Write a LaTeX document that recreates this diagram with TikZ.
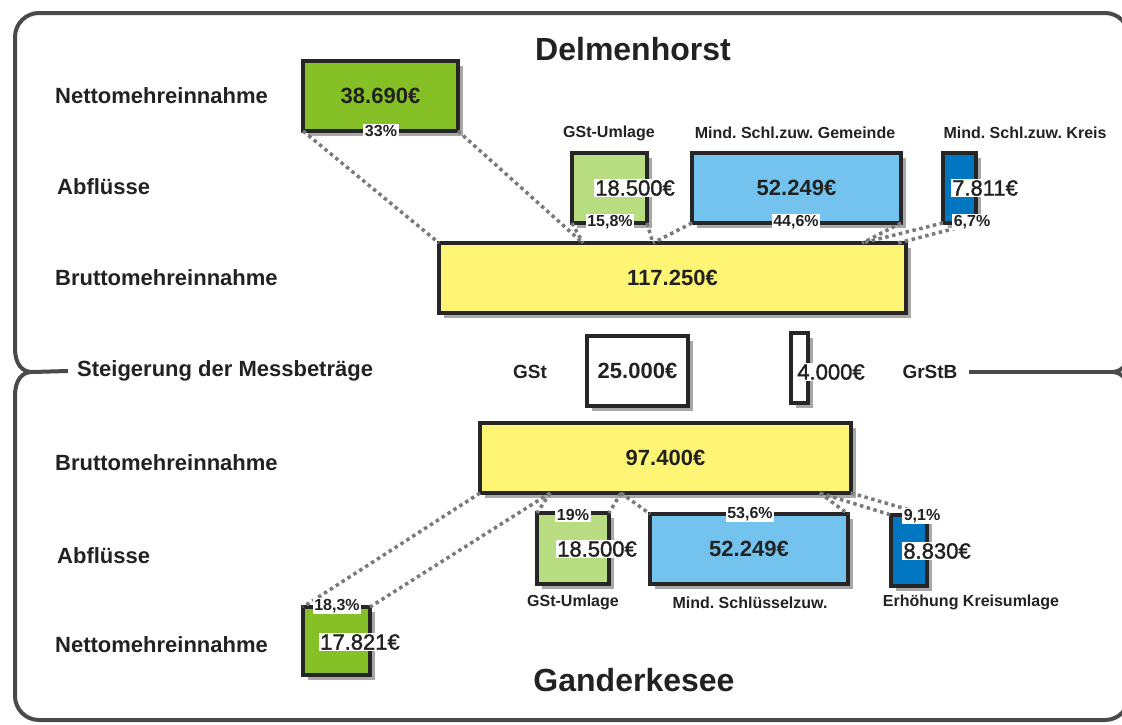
\documentclass[tikz,border=0pt]{standalone}
\usepackage{fontspec}
\setmainfont{Liberation Sans}
\usepackage{tikz}
\usetikzlibrary{calc,shadows}
\frenchspacing
\definecolor{netgreen}{HTML}{85C026}
\definecolor{gstgreen}{HTML}{B8DC80}
\definecolor{lightblue}{HTML}{74C3EE}
\definecolor{darkblue}{HTML}{0077C0}
\definecolor{grossyellow}{HTML}{FFF575}
\definecolor{shadowgray}{HTML}{A8A8A8}
\definecolor{framegray}{HTML}{4A4A4A}
\definecolor{dotgray}{HTML}{7A7A7A}
\definecolor{textdark}{HTML}{222222}
\tikzset{
  outline/.style={draw=framegray, line width=4pt},
  box/.style={draw=black!85, line width=3.5pt, inner sep=0pt, outer sep=0pt,
    drop shadow={shadow xshift=5pt, shadow yshift=-5pt, fill=shadowgray, opacity=1},
    font=\bfseries\fontsize{22}{26}\selectfont},
  flow/.style={draw=dotgray, line width=3.5pt, dash pattern=on 3.5pt off 3.5pt},
  rowlabel/.style={anchor=west, inner sep=0pt, font=\bfseries\fontsize{22}{26}\selectfont},
  caption/.style={inner sep=0pt, font=\bfseries\fontsize{16}{19}\selectfont},
  pct/.style={fill=white, inner sep=1.5pt, font=\bfseries\fontsize{16}{19}\selectfont},
  amount/.style={fill=white, inner sep=1pt, font=\fontsize{22}{26}\selectfont\addfontfeature{FakeBold=1.5}},
  title/.style={font=\bfseries\fontsize{32}{38}\selectfont}
}
\begin{document}
\begin{tikzpicture}[x=1pt, y=-1pt, every node/.style={text=textdark}]
\useasboundingbox (0,0) rectangle (1122,724);

% frame with the two braces
\draw[outline, rounded corners=24pt] (15,348) -- (15,13) -- (1129,13) -- (1129,348);
\draw[outline, rounded corners=24pt] (15,396) -- (15,720) -- (1129,720) -- (1129,396);
\coordinate (braceL) at (32,372);
\coordinate (braceR) at (1112,372);
\draw[outline] (15,348) .. controls (15,364) and (22,372) .. (braceL)
               .. controls (22,372) and (15,380) .. (15,396);
\draw[outline] (1129,348) .. controls (1129,364) and (1122,372) .. (braceR)
               .. controls (1122,372) and (1129,380) .. (1129,396);

\node[title] (delm) at (633,49) {Delmenhorst};
\node[title] (gand) at (634,680) {Ganderkesee};

\node[rowlabel] (nettoDl) at (55,96) {Nettomehreinnahme};
\node[rowlabel] (abflDl) at (57,187) {Abflüsse};
\node[rowlabel] (bruttoDl) at (55,278) {Bruttomehreinnahme};
\node[rowlabel] (steig) at (77,371) {Steigerung der Messbeträge};
\node[rowlabel] (bruttoGl) at (55,463) {Bruttomehreinnahme};
\node[rowlabel] (abflGl) at (57,556) {Abflüsse};
\node[rowlabel] (nettoGl) at (55,645) {Nettomehreinnahme};

\draw[outline] (braceL) -- ([xshift=-9pt]steig.west);

% Delmenhorst
\node[box, fill=netgreen, minimum width=155pt, minimum height=70pt] (nettoD) at (380.5,96) {38.690€};
\node[box, fill=gstgreen, minimum width=75pt, minimum height=70pt] (gstD) at (609.5,188) {};
\node[box, fill=lightblue, minimum width=209pt, minimum height=70pt] (gemD) at (796.5,188) {52.249€};
\node[box, fill=darkblue, minimum width=33pt, minimum height=70pt] (kreisD) at (959.5,188) {};
\node[box, fill=grossyellow, minimum width=467pt, minimum height=70pt] (bruttoD) at (672.5,278) {117.250€};

% Messbetraege
\node[box, fill=white, minimum width=101pt, minimum height=70pt] (gstW) at (637.5,371) {25.000€};
\node[box, fill=white, minimum width=17pt, minimum height=70pt] (grstW) at (799.5,368) {};
\node[caption, font=\bfseries\fontsize{19}{22}\selectfont] (gstT) at (530,372) {GSt};
\node[caption, font=\bfseries\fontsize{19}{22}\selectfont] (grstb) at (930,372) {GrStB};
\draw[outline] ([xshift=11pt]grstb.east) -- (braceR);

% Ganderkesee
\node[box, fill=grossyellow, minimum width=371pt, minimum height=70pt] (bruttoG) at (665.5,458) {97.400€};
\node[box, fill=gstgreen, minimum width=72pt, minimum height=71pt] (gstG) at (573,548.5) {};
\node[box, fill=lightblue, minimum width=198pt, minimum height=70pt] (schlG) at (749,549) {52.249€};
\node[box, fill=darkblue, minimum width=36pt, minimum height=71pt] (kreisG) at (909,550.5) {};
\node[box, fill=netgreen, minimum width=67pt, minimum height=68pt] (nettoG) at (336.5,641) {};

\coordinate (d1) at ($(bruttoD.north west)!0.308!(bruttoD.north east)$);
\coordinate (d2) at ($(bruttoD.north west)!0.458!(bruttoD.north east)$);
\coordinate (d3) at ($(bruttoD.north west)!0.906!(bruttoD.north east)$);
\coordinate (d4) at ($(bruttoD.north west)!0.983!(bruttoD.north east)$);
\draw[flow] (nettoD.south west) -- (bruttoD.north west);
\draw[flow] (nettoD.south east) -- (d1);
\draw[flow] (gstD.south west) -- (d1);
\draw[flow] (gstD.south east) -- (d2);
\draw[flow] (gemD.south west) -- (d2);
\draw[flow] (gemD.south east) -- (d3);
\draw[flow] (kreisD.south west) -- (d3);
\draw[flow] (kreisD.south east) -- (d4);

\coordinate (g1) at ($(bruttoG.south west)!0.189!(bruttoG.south east)$);
\coordinate (g2) at ($(bruttoG.south west)!0.380!(bruttoG.south east)$);
\coordinate (g3) at ($(bruttoG.south west)!0.916!(bruttoG.south east)$);
\draw[flow] (bruttoG.south west) -- (nettoG.north west);
\draw[flow] (g1) -- (nettoG.north east);
\draw[flow] (g1) -- (gstG.north west);
\draw[flow] (g2) -- (gstG.north east);
\draw[flow] (g2) -- (schlG.north west);
\draw[flow] (g3) -- (schlG.north east);
\draw[flow] (g3) -- (kreisG.north west);
\draw[flow] (bruttoG.south east) -- (kreisG.north east);

\node[pct] (pNettoD) at (381,131) {33\%};
\node[pct] (pGstD) at (610,222) {15,8\%};
\node[pct] (pGemD) at (796,222) {44,6\%};
\node[pct] (pKreisD) at (972,222) {6,7\%};
\node[amount] (vGstD) at (635,188) {18.500€};
\node[amount] (vKreisD) at (985,188) {7.811€};
\node[caption] (cGstD) at (609,133) {GSt-Umlage};
\node[caption] (cGemD) at (795,133) {Mind. Schl.zuw. Gemeinde};
\node[caption] (cKreisD) at (1025,133) {Mind. Schl.zuw. Kreis};

\node[amount] (vGrst) at (831,372) {4.000€};

\node[pct] (pGstG) at (573,515) {19\%};
\node[pct] (pSchlG) at (750,514) {53,6\%};
\node[pct] (pKreisG) at (922,516) {9,1\%};
\node[pct] (pNettoG) at (337,606) {18,3\%};
\node[amount] (vGstG) at (597,549) {18.500€};
\node[amount] (vKreisG) at (937,551) {8.830€};
\node[amount] (vNettoG) at (360,642) {17.821€};
\node[caption] (cGstG) at (573,602) {GSt-Umlage};
\node[caption] (cSchlG) at (750,603) {Mind. Schlüsselzuw.};
\node[caption] (cKreisG) at (971,602) {Erhöhung Kreisumlage};
\end{tikzpicture}
\end{document}
